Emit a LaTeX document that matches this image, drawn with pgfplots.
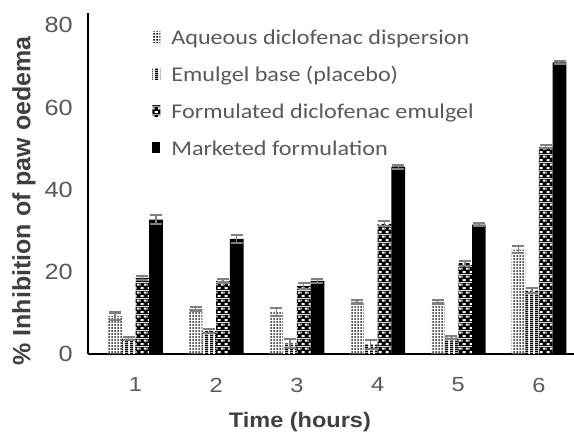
\documentclass[border=0pt]{standalone}
\usepackage{fontspec}
\usepackage{pgfplots}
\pgfplotsset{compat=1.18}
\usepackage{pgfplotstable}
\usetikzlibrary{patterns}
\setmainfont{Liberation Sans}
\newfontfamily\tickfont[FakeStretch=1.15]{Liberation Sans}
\newfontfamily\labfont[FakeStretch=1.12]{Liberation Sans}
\newfontfamily\ylabfont{Liberation Sans}
\newfontfamily\legfont[FakeStretch=1.15]{Carlito}
\definecolor{tickgray}{HTML}{595959}
\definecolor{titlegray}{HTML}{404040}
\definecolor{errgray}{HTML}{808080}

\pgfdeclarepatterninherentlycolored{aqdots}{\pgfpointorigin}{\pgfqpoint{3.2pt}{2.6pt}}{\pgfqpoint{3.2pt}{2.6pt}}{%
  \pgfsetfillcolor{white}\pgfpathrectangle{\pgfpointorigin}{\pgfqpoint{3.2pt}{2.6pt}}\pgfusepath{fill}%
  \pgfsetfillcolor{black}\pgfpathrectangle{\pgfqpoint{0.5pt}{0.5pt}}{\pgfqpoint{1.7pt}{1.4pt}}\pgfusepath{fill}}
\pgfdeclarepatterninherentlycolored{emlines}{\pgfpointorigin}{\pgfqpoint{5pt}{2pt}}{\pgfqpoint{5pt}{2pt}}{%
  \pgfsetfillcolor{white}\pgfpathrectangle{\pgfpointorigin}{\pgfqpoint{5pt}{2pt}}\pgfusepath{fill}%
  \pgfsetfillcolor{black}\pgfpathrectangle{\pgfpointorigin}{\pgfqpoint{3.6pt}{2pt}}\pgfusepath{fill}}
\pgfdeclarepatterninherentlycolored{focheck}{\pgfpointorigin}{\pgfqpoint{7pt}{8pt}}{\pgfqpoint{7pt}{8pt}}{%
  \pgfsetfillcolor{black}\pgfpathrectangle{\pgfpointorigin}{\pgfqpoint{7pt}{8pt}}\pgfusepath{fill}%
  \pgfsetfillcolor{white}%
  \pgfpathrectangle{\pgfqpoint{0.8pt}{0.9pt}}{\pgfqpoint{3.3pt}{2.2pt}}%
  \pgfpathrectangle{\pgfqpoint{4.3pt}{4.9pt}}{\pgfqpoint{2.7pt}{2.2pt}}%
  \pgfpathrectangle{\pgfqpoint{0pt}{4.9pt}}{\pgfqpoint{0.6pt}{2.2pt}}%
  \pgfusepath{fill}}

\pgfplotstableread{
x aq aqe em eme fo foe ma mae
1 9.2 0.9 3.8 0.3 18.5 0.5 32.7 1.1
2 11.0 0.4 5.6 0.5 17.8 0.4 28.0 1.0
3 10.2 0.9 2.6 1.1 16.6 0.7 17.8 0.5
4 12.7 0.4 2.4 1.1 31.7 0.6 45.5 0.4
5 12.7 0.4 4.0 0.3 22.1 0.6 31.5 0.4
6 25.4 0.8 15.5 0.6 50.5 0.4 71.0 0.4
}\data

\begin{document}
\begin{tikzpicture}[x=1pt,y=1pt]
\path[use as bounding box] (0,0) rectangle (574,434);
\begin{axis}[
  at={(88pt,80pt)}, anchor=south west,
  scale only axis, width=486pt, height=341pt,
  xmin=0.411, xmax=6.434, ymin=0, ymax=83,
  axis lines=left,
  axis line style={-, line width=1.6pt, black},
  xtick={1,2,3,4,5,6}, ytick={0,20,40,60,80},
  major tick length=0pt,
  /pgf/number format/assume math mode=true,
  xticklabel style={font=\tickfont\fontsize{20.5}{24}\selectfont, text=tickgray, inner sep=0pt, anchor=north, yshift=-23.5pt},
  yticklabel style={font=\tickfont\fontsize{22}{26}\selectfont, text=tickgray, inner sep=0pt, anchor=east, xshift=-15pt},
  xlabel={Time (hours)},
  xlabel style={font=\labfont\bfseries\fontsize{21}{25}\selectfont, text=titlegray, at={(axis description cs:0.436,-0.199)}, anchor=center, inner sep=0pt},
  ylabel={\% Inhibition of paw oedema},
  ylabel style={font=\ylabfont\bfseries\fontsize{25}{30}\selectfont, text=titlegray, at={(axis description cs:-0.1317,0.449)}, anchor=center, inner sep=0pt},
  ybar=0pt, bar width=0.17,
  error bars/error bar style={draw=errgray, line width=1.3pt, fill=none},
  error bars/error mark options={draw=errgray, line width=2.2pt, mark size=6pt, rotate=90},
  legend style={at={(axis description cs:0.132,0.949)}, anchor=north west, draw=none, fill=none, inner sep=0pt,
    font=\legfont\fontsize{21}{25}\selectfont, text=tickgray, row sep=18pt,
    nodes={inner sep=0pt, text height=14pt, text depth=5pt}, cells={anchor=west},
    /tikz/every odd column/.append style={column sep=11pt}},
  legend image code/.code={\path[#1, draw=none] (0pt,-2pt) rectangle (8pt,9pt);},
]
\addplot[draw=none, pattern=aqdots, error bars/.cd, y dir=both, y explicit] table[x=x, y=aq, y error=aqe]{\data};
\addlegendentry{Aqueous diclofenac dispersion}
\addplot[draw=none, pattern=emlines, error bars/.cd, y dir=both, y explicit] table[x=x, y=em, y error=eme]{\data};
\addlegendentry{Emulgel base (placebo)}
\addplot[draw=none, pattern=focheck, error bars/.cd, y dir=both, y explicit] table[x=x, y=fo, y error=foe]{\data};
\addlegendentry{Formulated diclofenac emulgel}
\addplot[draw=none, fill=black, error bars/.cd, y dir=both, y explicit] table[x=x, y=ma, y error=mae]{\data};
\addlegendentry{Marketed formulation}
\end{axis}
\end{tikzpicture}
\end{document}
